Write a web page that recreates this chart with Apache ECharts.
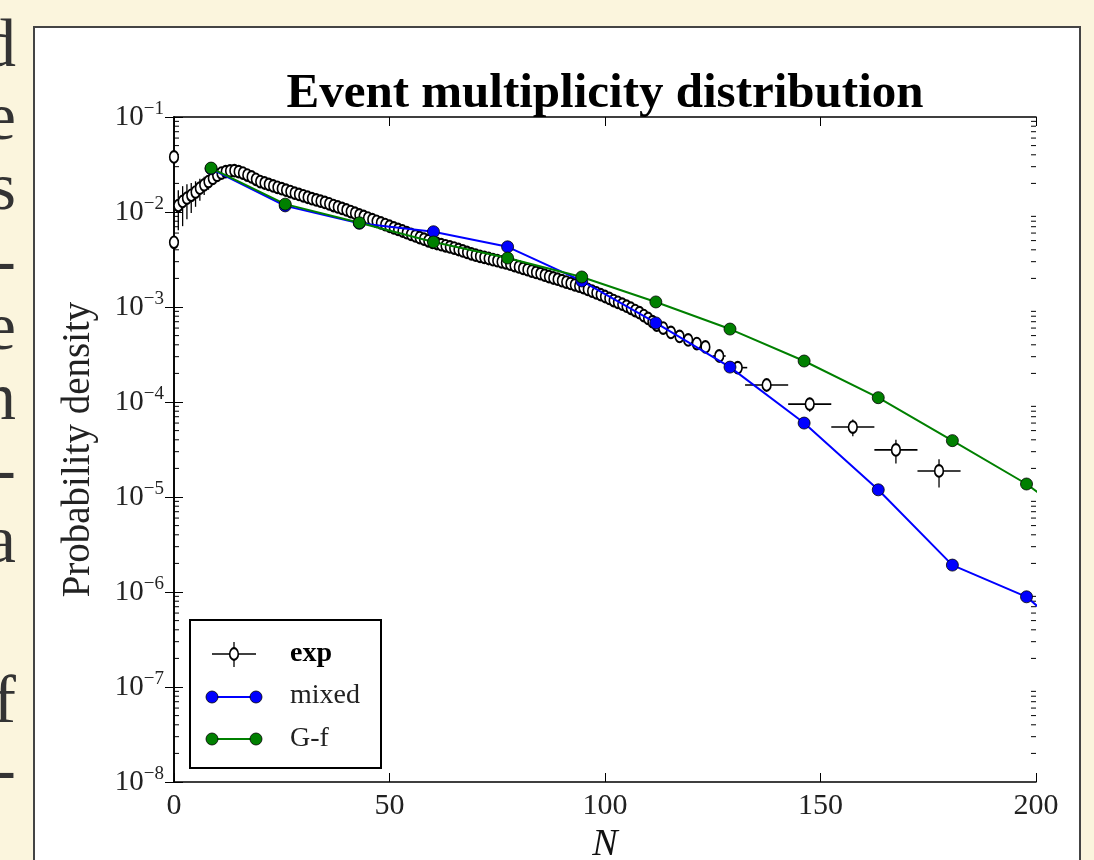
<!DOCTYPE html>
<html>
<head>
    <meta charset="utf-8">
    <script src="https://cdn.jsdelivr.net/npm/echarts@6/dist/echarts.min.js"></script>
    <style>
        html, body { margin: 0; padding: 0; background: #fbf5dd; }
    </style>
</head>
<body>
    <div id="main" style="width: 1094px;height:860px;"></div>
    <script type="text/javascript">
        var myChart = echarts.init(document.getElementById('main'));
        var serif = '"Liberation Serif", "DejaVu Serif", serif';

        // exp: dense bins (N, probability)
        var expN = [0, 0, 1, 2, 3, 4, 5, 6, 7, 8, 9, 10, 11, 12, 13, 14, 15, 16, 17, 18, 19,
            20, 21, 22, 23, 24, 25, 26, 27, 28, 29, 30, 31, 32, 33, 34, 35, 36, 37, 38, 39,
            40, 41, 42, 43, 44, 45, 46, 47, 48, 49, 50, 51, 52, 53, 54, 55, 56, 57, 58, 59,
            60, 61, 62, 63, 64, 65, 66, 67, 68, 69, 70, 71, 72, 73, 74, 75, 76, 77, 78, 79,
            80, 81, 82, 83, 84, 85, 86, 87, 88, 89, 90, 91, 92, 93, 94, 95, 96, 97, 98, 99,
            100, 101, 102, 103, 104, 105, 106, 107, 108, 109, 110, 111, 112];
        var expP = [0.038, 0.0048, 0.0117, 0.0129, 0.0140, 0.0150, 0.0162, 0.0178, 0.0193, 0.0209,
            0.0226, 0.0243, 0.0257, 0.0266, 0.0271, 0.0272, 0.0266, 0.0257, 0.0245, 0.0234, 0.0221,
            0.0209, 0.0202, 0.0195, 0.0188, 0.0182, 0.0176, 0.0170, 0.0164, 0.0158, 0.0153,
            0.0148, 0.0143, 0.0138, 0.0134, 0.0130, 0.0126, 0.0122, 0.0117, 0.0113, 0.0109,
            0.0105, 0.0101, 0.00971, 0.00933, 0.00897, 0.00863, 0.00830, 0.00798, 0.00767, 0.00738,
            0.00708, 0.00681, 0.00655, 0.00631, 0.00605, 0.00582, 0.00560, 0.00538, 0.00518, 0.00498,
            0.00479, 0.00466, 0.00453, 0.00441, 0.00429, 0.00417, 0.00403, 0.00389, 0.00376, 0.00363,
            0.00351, 0.00341, 0.00333, 0.00324, 0.00315, 0.00307, 0.00299, 0.00292, 0.00282, 0.00273,
            0.00264, 0.00255, 0.00247, 0.00239, 0.00231, 0.00224, 0.00216, 0.00209, 0.00202, 0.00196,
            0.00189, 0.00183, 0.00177, 0.00171, 0.00166, 0.00160, 0.00153, 0.00147, 0.00141, 0.00135,
            0.00129, 0.00123, 0.00117, 0.00112, 0.00107, 0.00102, 0.000970, 0.000918, 0.000871, 0.000813,
            0.000759, 0.000700, 0.000646];
        // relative errors of the first low-N bins, the rest are small
        var expErrHead = [0.06, 0.08, 0.45, 0.45, 0.4, 0.35, 0.3, 0.26, 0.22, 0.18, 0.15, 0.12, 0.1, 0.08];
        var expErrRest = 0.12;

        // exp: wider bins in the tail
        var tailN = [113.5, 115.3, 117.3, 119.3, 121.3, 123.3, 126.5, 130.8, 137.5, 147.5, 157.5, 167.5, 177.5];
        var tailP = [6.0e-4, 5.4e-4, 4.9e-4, 4.5e-4, 4.12e-4, 3.8e-4, 3.05e-4, 2.3e-4,
            1.51e-4, 9.5e-5, 5.45e-5, 3.13e-5, 1.88e-5];
        var tailXerr = [0.8, 0.9, 1, 1, 1, 1, 1.5, 2.2, 5, 5, 5, 5, 5];
        var tailErr = [0.05, 0.05, 0.05, 0.05, 0.06, 0.06, 0.08, 0.1, 0.12, 0.17, 0.2, 0.28, 0.33];

        // models
        var modelN = [8.6, 25.8, 43, 60.2, 77.4, 94.6, 111.8, 129, 146.2, 163.4, 180.6, 197.8, 215];
        var mixedP = [0.0285, 0.0116, 0.0076, 0.0062, 0.0043, 0.00188, 0.00068, 0.000233,
            0.000060, 0.0000119, 0.00000192, 0.00000089, 0.00000019];
        var gfP = [0.029, 0.0121, 0.0077, 0.00483, 0.00328, 0.00207, 0.00113, 0.000586,
            0.000270, 0.000111, 0.0000392, 0.0000137, 0.0000036];

        var expData = [];
        expN.forEach(function (n, i) {
            var e = i < expErrHead.length ? expErrHead[i] : expErrRest;
            expData.push([n, expP[i], 0, expP[i] * (1 - e), expP[i] * (1 + e)]);
        });
        tailN.forEach(function (n, i) {
            expData.push([n, tailP[i], tailXerr[i], tailP[i] * (1 - tailErr[i]), tailP[i] * (1 + tailErr[i])]);
        });

        // minor ticks 2..9 of every decade
        var minorTicks = [];
        for (var d = -8; d < -1; d++) {
            for (var m = 2; m <= 9; m++) minorTicks.push([0, m * Math.pow(10, d)]);
        }

        function renderExp(params, api) {
            var n = api.value(0), v = api.value(1), xe = api.value(2);
            var c = api.coord([n, v]);
            var top = api.coord([n, api.value(4)]);
            var bot = api.coord([n, api.value(3)]);
            var kids = [];
            if (xe > 0) {
                var l = api.coord([n - xe, v]), r = api.coord([n + xe, v]);
                kids.push({type: 'line', shape: {x1: l[0], y1: l[1], x2: r[0], y2: r[1]},
                    style: {stroke: '#000', lineWidth: 1.6}});
            }
            kids.push({type: 'line', shape: {x1: c[0], y1: top[1], x2: c[0], y2: bot[1]},
                style: {stroke: '#000', lineWidth: 1.3}});
            kids.push({type: 'circle', x: c[0], y: c[1], scaleY: 1.35, shape: {cx: 0, cy: 0, r: 4.3},
                style: {fill: '#fff', stroke: '#000', lineWidth: 1.6}});
            return {type: 'group', children: kids};
        }

        function renderMinor(params, api) {
            var v = api.value(1);
            var a = api.coord([0, v]), b = api.coord([200, v]);
            return {type: 'group', children: [
                {type: 'line', shape: {x1: a[0], y1: a[1], x2: a[0] + 5, y2: a[1]}, style: {stroke: '#000', lineWidth: 1}},
                {type: 'line', shape: {x1: b[0] - 5, y1: b[1], x2: b[0], y2: b[1]}, style: {stroke: '#000', lineWidth: 1}}
            ]};
        }

        var supLabel = {
            formatter: function (v) {
                var e = Math.round(Math.log(v) / Math.LN10);
                return '{b|10}{s|\u2212' + (-e) + '}';
            },
            rich: {
                b: {fontSize: 29, fontFamily: serif, color: '#222'},
                s: {fontSize: 19, fontFamily: serif, color: '#222', verticalAlign: 'bottom', padding: [0, 0, 15, 0]}
            },
            margin: 10
        };

        // left page text cut by the figure
        var pageLetters = [['d', 67], ['e', 140], ['s', 210], ['-', 283], ['e', 350], ['n', 420],
            ['-', 492], ['a', 563], ['f', 723], ['-', 792]];
        var pageText = pageLetters.map(function (p) {
            return {type: 'text', z: 100, style: {text: p[0], x: 16, y: p[1] + 15, align: 'right',
                verticalAlign: 'bottom', font: '68px ' + serif, fill: '#333'}};
        });

        var option = {
            backgroundColor: '#fbf5dd',
            animation: false,
            title: {
                text: 'Event multiplicity distribution',
                left: 600, top: 65, textAlign: 'center',
                textStyle: {fontFamily: serif, fontWeight: 'bold', fontSize: 49, color: '#000'}
            },
            grid: {left: 174, right: 58, top: 117, bottom: 78, outerBoundsMode: 'none', containLabel: false},
            xAxis: [{
                type: 'value', min: 0, max: 200, interval: 50,
                name: 'N', nameLocation: 'middle', nameGap: 44,
                nameTextStyle: {fontFamily: serif, fontStyle: 'italic', fontSize: 38, color: '#111'},
                axisLine: {lineStyle: {color: '#000', width: 1.6}},
                axisTick: {inside: true, length: 9, lineStyle: {color: '#000'}},
                axisLabel: {margin: 9, fontSize: 30, fontFamily: serif, color: '#222'},
                splitLine: {show: false}
            }, {
                type: 'value', position: 'top', min: 0, max: 200, interval: 50,
                axisLine: {lineStyle: {color: '#000', width: 1.6}},
                axisTick: {inside: true, length: 9, lineStyle: {color: '#000'}},
                axisLabel: {show: false},
                splitLine: {show: false}
            }],
            yAxis: [{
                type: 'log', logBase: 10, min: 1e-8, max: 1e-1, splitNumber: 7,
                name: 'Probability density', nameLocation: 'middle', nameGap: 76,
                nameTextStyle: {fontFamily: serif, fontSize: 39, color: '#222'},
                axisLine: {lineStyle: {color: '#000', width: 1.6}},
                axisTick: {inside: true, length: 9, lineStyle: {color: '#000'}},
                axisLabel: supLabel,
                splitLine: {show: false}
            }, {
                type: 'log', logBase: 10, min: 1e-8, max: 1e-1, splitNumber: 7, position: 'right',
                axisLine: {lineStyle: {color: '#000', width: 1.6}},
                axisTick: {inside: true, length: 9, lineStyle: {color: '#000'}},
                axisLabel: {show: false},
                splitLine: {show: false}
            }],
            graphic: [{
                type: 'rect', z: -10, shape: {x: 34, y: 27, width: 1046, height: 900},
                style: {fill: '#fff', stroke: '#444', lineWidth: 2}
            }, {
                type: 'group', z: 100, left: 189, top: 619,
                children: [
                    {type: 'rect', shape: {x: 0, y: 0, width: 191, height: 148}, style: {fill: '#fff', stroke: '#000', lineWidth: 2}},
                    {type: 'line', shape: {x1: 22, y1: 34, x2: 66, y2: 34}, style: {stroke: '#000', lineWidth: 1.6}},
                    {type: 'line', shape: {x1: 44, y1: 22, x2: 44, y2: 47}, style: {stroke: '#000', lineWidth: 1.3}},
                    {type: 'circle', x: 44, y: 34, scaleY: 1.35, shape: {cx: 0, cy: 0, r: 4.3}, style: {fill: '#fff', stroke: '#000', lineWidth: 1.6}},
                    {type: 'text', style: {text: 'exp', x: 100, y: 34, verticalAlign: 'middle', font: 'bold 28px ' + serif, fill: '#000'}},
                    {type: 'line', shape: {x1: 22, y1: 77, x2: 66, y2: 77}, style: {stroke: '#0000ff', lineWidth: 2}},
                    {type: 'circle', shape: {cx: 22, cy: 77, r: 6}, style: {fill: '#0000ff', stroke: '#000', lineWidth: 0.8}},
                    {type: 'circle', shape: {cx: 66, cy: 77, r: 6}, style: {fill: '#0000ff', stroke: '#000', lineWidth: 0.8}},
                    {type: 'text', style: {text: 'mixed', x: 100, y: 76, verticalAlign: 'middle', font: '28px ' + serif, fill: '#222'}},
                    {type: 'line', shape: {x1: 22, y1: 119, x2: 66, y2: 119}, style: {stroke: '#008000', lineWidth: 2}},
                    {type: 'circle', shape: {cx: 22, cy: 119, r: 6}, style: {fill: '#008000', stroke: '#000', lineWidth: 0.8}},
                    {type: 'circle', shape: {cx: 66, cy: 119, r: 6}, style: {fill: '#008000', stroke: '#000', lineWidth: 0.8}},
                    {type: 'text', style: {text: 'G-f', x: 100, y: 119, verticalAlign: 'middle', font: '28px ' + serif, fill: '#222'}}
                ]
            }].concat(pageText),
            series: [
                {
                    name: 'minor ticks', type: 'custom', silent: true,
                    renderItem: renderMinor, data: minorTicks, z: 3
                },
                {
                    name: 'exp', type: 'custom', renderItem: renderExp,
                    data: expData, z: 4
                },
                {
                    name: 'mixed', type: 'line', data: modelN.map(function (n, i) { return [n, mixedP[i]]; }),
                    symbol: 'circle', symbolSize: 12, clip: true,
                    lineStyle: {color: '#0000ff', width: 2},
                    itemStyle: {color: '#0000ff', borderColor: '#000', borderWidth: 0.8},
                    z: 5
                },
                {
                    name: 'G-f', type: 'line', data: modelN.map(function (n, i) { return [n, gfP[i]]; }),
                    symbol: 'circle', symbolSize: 12, clip: true,
                    lineStyle: {color: '#008000', width: 2},
                    itemStyle: {color: '#008000', borderColor: '#000', borderWidth: 0.8},
                    z: 6
                }
            ]
        };
        myChart.setOption(option);
    </script>
</body>
</html>
